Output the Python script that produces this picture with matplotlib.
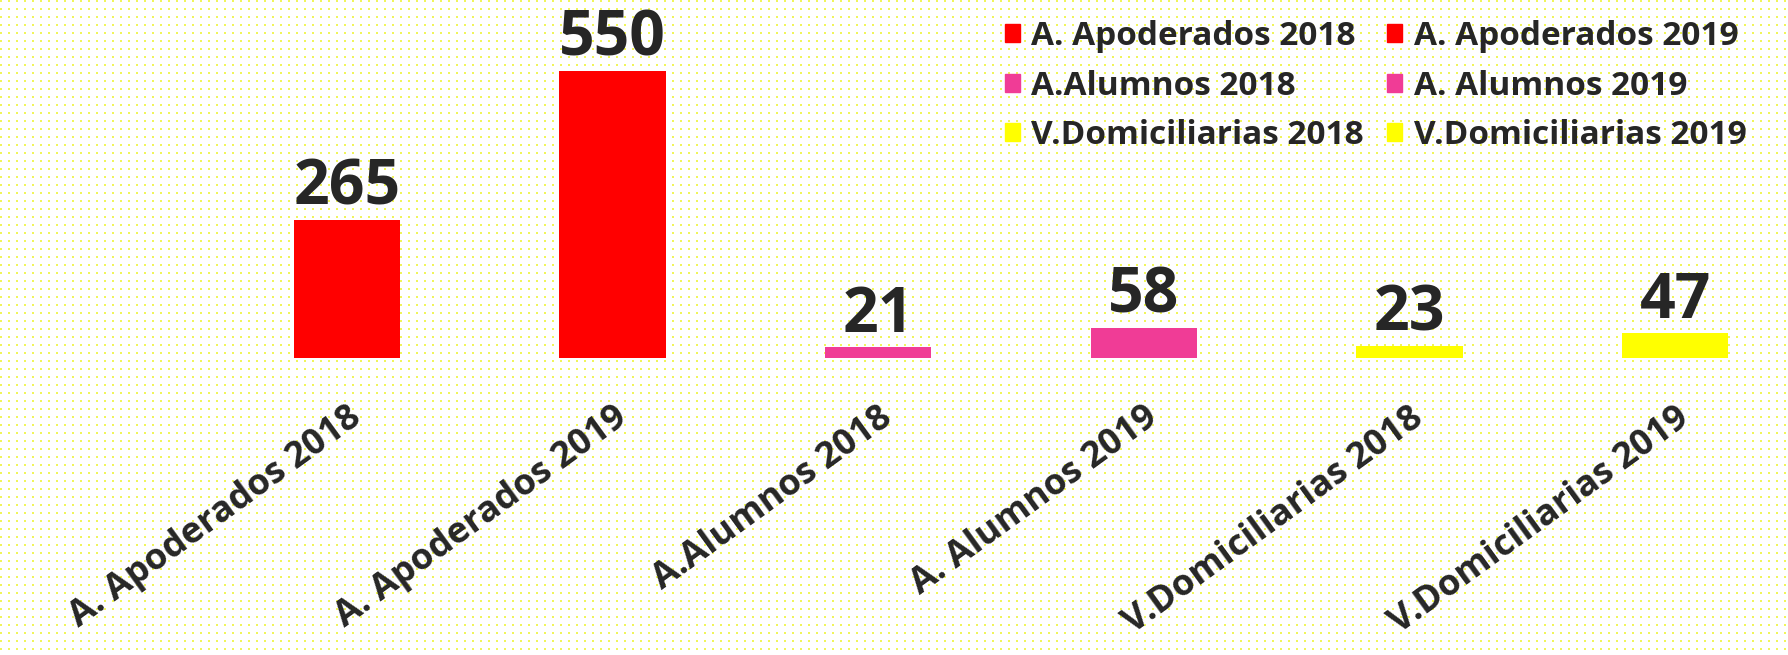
import numpy as np
import matplotlib.pyplot as plt

# data
categories = ["A. Apoderados 2018", "A. Apoderados 2019", "A.Alumnos 2018",
              "A. Alumnos 2019", "V.Domiciliarias 2018", "V.Domiciliarias 2019"]
values = [265, 550, 21, 58, 23, 47]
colors = ["#FF0000", "#FF0000", "#F03C96", "#F03C96", "#FFFF00", "#FFFF00"]

TEXT = "#262626"
plt.rcParams['font.family'] = ['Open Sans', 'DejaVu Sans']

W, H = 1788, 655
fig = plt.figure(figsize=(W / 100, H / 100), dpi=100)

# dotted background pattern (white with small yellow dots)
bg = np.ones((H, W, 3))
yy, xx = np.mgrid[0:H, 0:W]
dots = ((xx % 8) < 2) & ((yy % 8) < 2)
bg[dots] = np.array([240, 245, 90]) / 255
fig.figimage(bg, xo=0, yo=0, zorder=-5)

ax = fig.add_axes([0, (H - 358) / H, 1, 358 / H])
ax.set_zorder(1)
ax.patch.set_alpha(0)

x = np.arange(len(categories))
bars = ax.bar(x, values, width=0.4, color=colors, zorder=2)

ax.set_xlim(-1.306, 5.425)
ax.set_ylim(0, 685)

for b, v in zip(bars, values):
    ax.annotate(str(v), (b.get_x() + b.get_width() / 2, v), xytext=(0, 11),
                textcoords='offset points', ha='center', va='baseline',
                fontsize=45, fontweight='bold', color=TEXT)

ax.set_xticks(x)
ax.set_xticklabels(categories, rotation=36, ha='right', rotation_mode='anchor',
                   fontsize=26, fontweight='bold', color=TEXT)
ax.tick_params(axis='x', length=0, pad=30)
ax.set_yticks([])
for s in ax.spines.values():
    s.set_visible(False)

# legend: matplotlib fills columns first
order = [0, 2, 4, 1, 3, 5]
handles = [plt.Rectangle((0, 0), 1, 1, color=colors[i]) for i in order]
labels = [categories[i] for i in order]
leg = ax.legend(handles, labels, ncol=2, loc='upper right',
                bbox_to_anchor=(0.988, 1.0), bbox_transform=fig.transFigure,
                frameon=False, prop={'size': 24, 'weight': 'bold'},
                handlelength=0.45, handleheight=0.45, handletextpad=0.35,
                columnspacing=0.7, labelspacing=0.5, labelcolor=TEXT,
                borderaxespad=0.2)

fig.savefig("out.png", dpi=100)
